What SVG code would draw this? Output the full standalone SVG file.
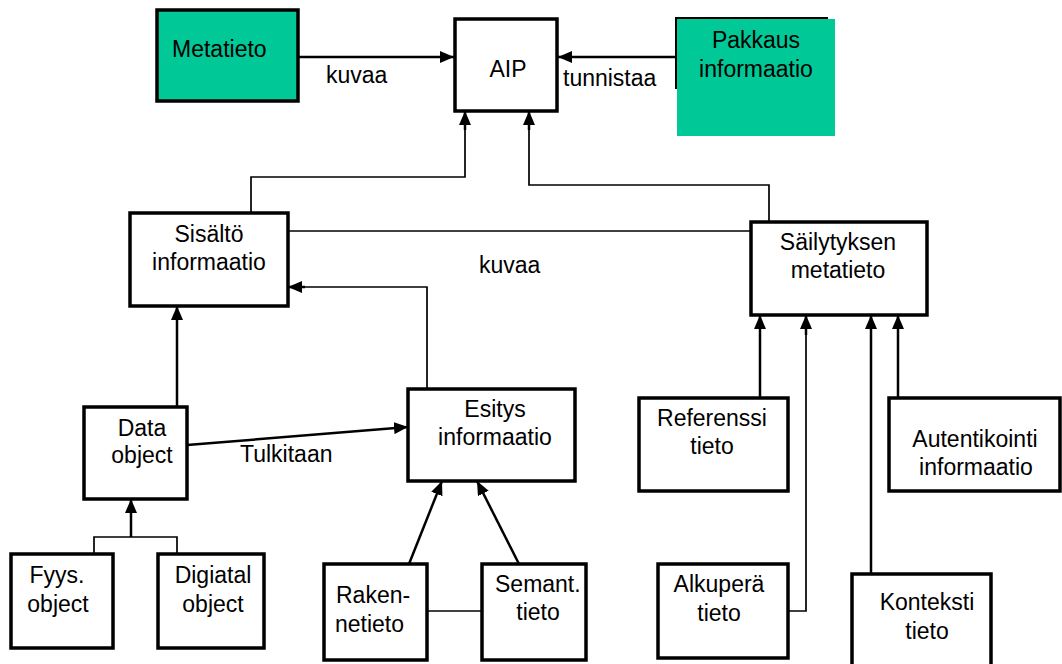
<svg xmlns="http://www.w3.org/2000/svg" width="1062" height="664" viewBox="0 0 1062 664">
  <style>
    text { font-family: "Liberation Sans", Arial, sans-serif; font-size: 23px; fill: #000; }
    .c { text-anchor: middle; }
    .box { fill: #fff; stroke: #000; stroke-width: 3.5; }
    .teal { fill: #00C896; }
    .arrow { fill: none; stroke: #000; stroke-width: 2.5; marker-end: url(#head); }
    .line { fill: none; stroke: #000; stroke-width: 1.7; }
  </style>
  <defs>
    <marker id="head" markerUnits="userSpaceOnUse" markerWidth="15" markerHeight="12" refX="14" refY="6" orient="auto">
      <path d="M0,0 L14,6 L0,12 z" fill="#000"/>
    </marker>
  </defs>
  <rect width="1062" height="664" fill="#fff"/>

  <!-- connectors -->
  <g id="connectors">
    <path class="arrow" d="M298,57 H454"/>
    <path class="arrow" d="M676,57 H558"/>
    <path class="line" d="M251,213 V177 H465 V125"/>
    <path class="arrow" d="M465,130 V111"/>
    <path class="line" d="M769,222 V185 H529 V125"/>
    <path class="arrow" d="M529,130 V111"/>
    <path class="line" d="M288,231 H750"/>
    <path class="line" d="M427,389 V287 H300"/>
    <path class="arrow" d="M305,287 H288"/>
    <path class="arrow" d="M177,407 V306"/>
    <path class="arrow" d="M187,445 L408,427"/>
    <path class="line" d="M94,554 V537 H177 V554"/>
    <path class="arrow" d="M131,537 V499"/>
    <path class="arrow" d="M409,564 L442,481"/>
    <path class="arrow" d="M519,564 L477,481"/>
    <path class="line" d="M427,611 H482"/>
    <path class="arrow" d="M760,398 V315"/>
    <path class="line" d="M788,611 H806 V330"/>
    <path class="arrow" d="M806,335 V315"/>
    <path class="arrow" d="M871,574 V315"/>
    <path class="arrow" d="M898,398 V315"/>
    <text x="326" y="83">kuvaa</text>
    <text x="563" y="86">tunnistaa</text>
    <text x="479" y="273">kuvaa</text>
    <text x="240" y="462">Tulkitaan</text>
  </g>

  <g id="metatieto">
    <rect class="teal" x="157" y="10" width="141" height="91" stroke="#000" stroke-width="3.5"/>
    <text x="172" y="57">Metatieto</text>
  </g>

  <g id="aip">
    <rect class="box" x="455" y="19" width="102" height="92"/>
    <text class="c" x="508" y="77">AIP</text>
  </g>

  <g id="pakkaus">
    <rect x="676" y="18" width="151" height="70" fill="none" stroke="#000" stroke-width="2"/>
    <rect class="teal" x="677" y="19" width="158" height="117"/>
    <text class="c" x="756" y="48">Pakkaus</text>
    <text class="c" x="756" y="77">informaatio</text>
  </g>

  <g id="sisalto">
    <rect class="box" x="130" y="213" width="158" height="93"/>
    <text class="c" x="209" y="242">Sisältö</text>
    <text class="c" x="209" y="270">informaatio</text>
  </g>

  <g id="sailytyksen">
    <rect class="box" x="751" y="222" width="176" height="93"/>
    <text class="c" x="838" y="250">Säilytyksen</text>
    <text class="c" x="838" y="278">metatieto</text>
  </g>

  <g id="data-object">
    <rect class="box" x="84" y="407" width="103" height="92"/>
    <text class="c" x="142" y="436">Data</text>
    <text class="c" x="142" y="463">object</text>
  </g>

  <g id="esitys">
    <rect class="box" x="408" y="389" width="167" height="92"/>
    <text class="c" x="495" y="417">Esitys</text>
    <text class="c" x="495" y="445">informaatio</text>
  </g>

  <g id="fyys">
    <rect class="box" x="11" y="554" width="102" height="94"/>
    <text class="c" x="57" y="583">Fyys.</text>
    <text class="c" x="58" y="612">object</text>
  </g>

  <g id="digiatal">
    <rect class="box" x="158" y="554" width="106" height="94"/>
    <text class="c" x="213" y="583">Digiatal</text>
    <text class="c" x="213" y="612">object</text>
  </g>

  <g id="rakenne">
    <rect class="box" x="324" y="564" width="103" height="96"/>
    <text x="336" y="603">Raken-</text>
    <text x="335" y="632">netieto</text>
  </g>

  <g id="semant">
    <rect class="box" x="482" y="564" width="104" height="96"/>
    <text x="495" y="592">Semant.</text>
    <text class="c" x="538" y="620">tieto</text>
  </g>

  <g id="referenssi">
    <rect class="box" x="639" y="398" width="149" height="93"/>
    <text class="c" x="712" y="426">Referenssi</text>
    <text class="c" x="712" y="454">tieto</text>
  </g>

  <g id="autentikointi">
    <rect class="box" x="889" y="398" width="171" height="93"/>
    <text class="c" x="975" y="447">Autentikointi</text>
    <text class="c" x="976" y="475">informaatio</text>
  </g>

  <g id="alkupera">
    <rect class="box" x="658" y="564" width="130" height="94"/>
    <text class="c" x="719" y="592">Alkuperä</text>
    <text class="c" x="719" y="621">tieto</text>
  </g>

  <g id="konteksti">
    <rect class="box" x="852" y="574" width="139" height="95"/>
    <text class="c" x="927" y="610">Konteksti</text>
    <text class="c" x="927" y="639">tieto</text>
  </g>
</svg>
